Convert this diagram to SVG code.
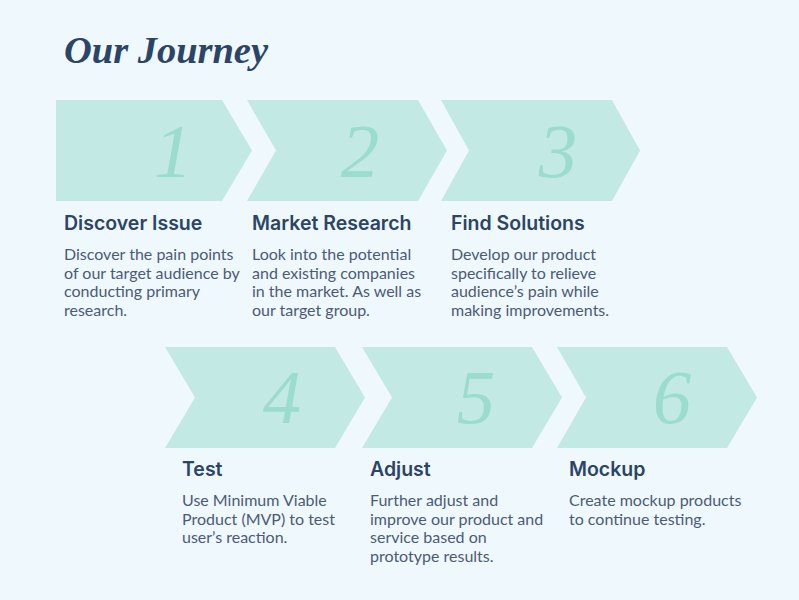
<svg xmlns="http://www.w3.org/2000/svg" width="799" height="600" viewBox="0 0 799 600">
<style>
.bg{fill:#eff8fd}
.chev{fill:#c3e9e4}
.num{font-family:"Liberation Serif","DejaVu Serif",serif;font-style:italic;font-size:77px;fill:#9adccd;text-anchor:middle}
.title{font-family:"Liberation Serif","DejaVu Serif",serif;font-style:italic;font-weight:bold;font-size:37px;fill:#2c4466}
.head{font-family:Inter,"Open Sans",sans-serif;font-weight:600;font-size:19.5px;fill:#2c4466}
.body{font-family:Lato,"Noto Sans",sans-serif;font-size:16px;fill:#4b5b77}
</style>
<rect class="bg" x="0" y="0" width="799" height="600"/>
<text class="title" x="64" y="63" textLength="204" lengthAdjust="spacingAndGlyphs">Our Journey</text>
<g id="step1">
<polygon class="chev" points="56,100 222,100 252,150.5 222,201 56,201"/>
<text class="num" x="173" y="177">1</text>
<text class="head" x="64" y="230">Discover Issue</text>
<text class="body" x="64" y="260">Discover the pain points</text>
<text class="body" x="64" y="278.5">of our target audience by</text>
<text class="body" x="64" y="297">conducting primary</text>
<text class="body" x="64" y="315.5">research.</text>
</g>
<g id="step2">
<polygon class="chev" points="247,100 418,100 447,150.5 418,201 247,201 276,150.5"/>
<text class="num" x="360" y="177">2</text>
<text class="head" x="252" y="230">Market Research</text>
<text class="body" x="252" y="260">Look into the potential</text>
<text class="body" x="252" y="278.5">and existing companies</text>
<text class="body" x="252" y="297">in the market. As well as</text>
<text class="body" x="252" y="315.5">our target group.</text>
</g>
<g id="step3">
<polygon class="chev" points="441,100 612,100 640,150.5 612,201 441,201 469,150.5"/>
<text class="num" x="558" y="177">3</text>
<text class="head" x="451" y="230">Find Solutions</text>
<text class="body" x="451" y="260">Develop our product</text>
<text class="body" x="451" y="278.5">specifically to relieve</text>
<text class="body" x="451" y="297">audience’s pain while</text>
<text class="body" x="451" y="315.5">making improvements.</text>
</g>
<g id="step4">
<polygon class="chev" points="165,347 335,347 365,397.5 335,448 165,448 195,397.5"/>
<text class="num" x="282" y="423">4</text>
<text class="head" x="182" y="476">Test</text>
<text class="body" x="182" y="506">Use Minimum Viable</text>
<text class="body" x="182" y="524.5">Product (MVP) to test</text>
<text class="body" x="182" y="543">user’s reaction.</text>
</g>
<g id="step5">
<polygon class="chev" points="362,347 532,347 562,397.5 532,448 362,448 392,397.5"/>
<text class="num" x="476" y="423">5</text>
<text class="head" x="370" y="476">Adjust</text>
<text class="body" x="370" y="506">Further adjust and</text>
<text class="body" x="370" y="524.5">improve our product and</text>
<text class="body" x="370" y="543">service based on</text>
<text class="body" x="370" y="561.5">prototype results.</text>
</g>
<g id="step6">
<polygon class="chev" points="557,347 727,347 757,397.5 727,448 557,448 586,397.5"/>
<text class="num" x="672" y="423">6</text>
<text class="head" x="569" y="476">Mockup</text>
<text class="body" x="569" y="506">Create mockup products</text>
<text class="body" x="569" y="524.5">to continue testing.</text>
</g>
<g id="connectors"/>
</svg>
